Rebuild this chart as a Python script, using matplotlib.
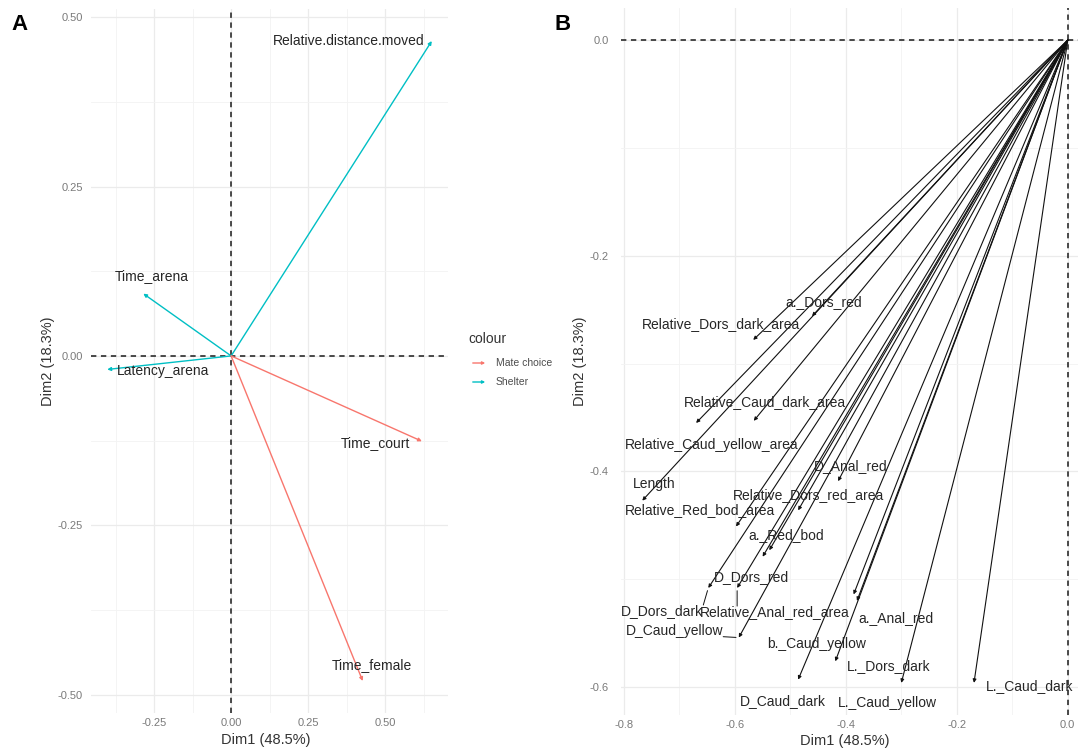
import matplotlib
matplotlib.use("Agg")
import matplotlib.pyplot as plt
from matplotlib.patches import FancyArrowPatch
from matplotlib.ticker import FormatStrFormatter
import numpy as np

plt.rcParams['font.family'] = ['Liberation Sans', 'DejaVu Sans']
plt.rcParams['axes.unicode_minus'] = False

# ---- Panel A: behavioural variables (PCA loadings) ----
behav_vars = ['Relative.distance.moved', 'Time_arena', 'Latency_arena',
              'Time_court', 'Time_female']
behav_dim1 = [0.651, -0.285, -0.402, 0.619, 0.427]
behav_dim2 = [0.465, 0.092, -0.020, -0.126, -0.480]
behav_group = ['Shelter', 'Shelter', 'Shelter', 'Mate choice', 'Mate choice']
group_names = ['Mate choice', 'Shelter']
group_colors = {'Mate choice': '#F8766D', 'Shelter': '#00BFC4'}

# repelled label placement (data units)
behav_label_xy = [(0.381, 0.465), (-0.258, 0.118), (-0.221, -0.022),
                  (0.468, -0.128), (0.458, -0.456)]

# ---- Panel B: colour-pattern variables (PCA loadings) ----
colour_vars = ['a._Dors_red', 'Relative_Dors_dark_area', 'Relative_Caud_dark_area',
               'Relative_Caud_yellow_area', 'D_Anal_red', 'Length',
               'Relative_Dors_red_area', 'Relative_Red_bod_area', 'a._Red_bod',
               'D_Dors_red', 'D_Dors_dark', 'Relative_Anal_red_area',
               'D_Caud_yellow', 'a._Anal_red', 'b._Caud_yellow', 'L._Dors_dark',
               'D_Caud_dark', 'L._Caud_yellow', 'L._Caud_dark']
colour_dim1 = [-0.461, -0.567, -0.566, -0.670, -0.414, -0.767, -0.486, -0.598,
               -0.538, -0.550, -0.648, -0.596, -0.593, -0.380, -0.386, -0.419,
               -0.486, -0.300, -0.169]
colour_dim2 = [-0.256, -0.278, -0.353, -0.355, -0.409, -0.427, -0.436, -0.451,
               -0.473, -0.479, -0.508, -0.508, -0.554, -0.520, -0.514, -0.576,
               -0.593, -0.596, -0.596]

colour_label_xy = [(-0.440, -0.243), (-0.625, -0.263), (-0.545, -0.336),
                   (-0.642, -0.375), (-0.392, -0.395), (-0.746, -0.412),
                   (-0.467, -0.422), (-0.663, -0.436), (-0.507, -0.459),
                   (-0.571, -0.498), (-0.731, -0.529), (-0.528, -0.530),
                   (-0.709, -0.548), (-0.310, -0.536), (-0.452, -0.560),
                   (-0.322, -0.580), (-0.514, -0.613), (-0.325, -0.615),
                   (-0.068, -0.599)]
# labels pushed far enough from their arrow to get a connector segment
colour_segment_vars = ['D_Dors_dark', 'Relative_Anal_red_area', 'D_Caud_yellow']

W, H = 1078, 754
fig = plt.figure(figsize=(W / 100, H / 100), dpi=100)
fig.patch.set_facecolor('white')


def px_axes(left, top, right, bottom):
    return fig.add_axes([left / W, 1 - bottom / H, (right - left) / W, (bottom - top) / H])


def expanded(vals, frac=0.05):
    lo, hi = min(min(vals), 0.0), max(max(vals), 0.0)
    pad = (hi - lo) * frac
    return lo - pad, hi + pad


def style_axes(ax, xmaj, xmin, ymaj, ymin, fmt):
    ax.set_facecolor('white')
    for s in ax.spines.values():
        s.set_visible(False)
    ax.set_xticks(xmaj)
    ax.set_xticks(xmin, minor=True)
    ax.set_yticks(ymaj)
    ax.set_yticks(ymin, minor=True)
    ax.xaxis.set_major_formatter(FormatStrFormatter(fmt))
    ax.yaxis.set_major_formatter(FormatStrFormatter(fmt))
    ax.grid(which='major', color='#EBEBEB', lw=0.9, zorder=0)
    ax.grid(which='minor', color='#F3F3F3', lw=0.6, zorder=0)
    ax.tick_params(which='both', length=0, labelsize=8, labelcolor='#7A7A7A')
    ax.tick_params(axis='x', pad=3.5)
    ax.tick_params(axis='y', pad=6)
    ax.set_axisbelow(True)
    ax.axhline(0, color='#1A1A1A', lw=1.1, ls=(0, (3.5, 3)), zorder=1)
    ax.axvline(0, color='#1A1A1A', lw=1.1, ls=(0, (3.5, 3)), zorder=1)
    ax.set_xlabel('Dim1 (48.5%)', fontsize=10.5, color='#333333')
    ax.set_ylabel('Dim2 (18.3%)', fontsize=10.5, color='#333333')
    ax.xaxis.label.set_va('center')
    ax.yaxis.label.set_va('center')


def loading_arrow(ax, x, y, color, lw):
    ax.annotate('', xy=(x, y), xytext=(0, 0),
                arrowprops=dict(arrowstyle='-|>', color=color, lw=lw,
                                mutation_scale=5, shrinkA=0, shrinkB=0),
                zorder=3)


# ---------------- Panel A ----------------
axA = px_axes(91, 9, 448, 713)
axA.set_xlim(*expanded(behav_dim1))
axA.set_ylim(*expanded(behav_dim2))
style_axes(axA, [-0.25, 0.0, 0.25, 0.5], [-0.375, -0.125, 0.125, 0.375, 0.625],
           [-0.5, -0.25, 0.0, 0.25, 0.5], [-0.375, -0.125, 0.125, 0.375], '%.2f')
axA.xaxis.set_label_coords(0.49, -0.039)
axA.yaxis.set_label_coords(-0.12, 0.5)

for name, x, y, g, (lx, ly) in zip(behav_vars, behav_dim1, behav_dim2,
                                     behav_group, behav_label_xy):
    loading_arrow(axA, x, y, group_colors[g], 1.0)
    axA.text(lx, ly, name, fontsize=10, color='#262626', ha='center', va='center',
             zorder=4)

# legend: title plus arrow keys
fig.text(468 / W, 1 - 339 / H, 'colour', fontsize=10, color='#333333',
         ha='left', va='center')
for i, g in enumerate(group_names):
    yk = 1 - (363 + 19 * i) / H
    fig.patches.append(FancyArrowPatch((470 / W, yk), (488 / W, yk),
                                       transform=fig.transFigure,
                                       arrowstyle='-|>', mutation_scale=4,
                                       color=group_colors[g], lw=1.0))
    fig.text(496 / W, yk, g, fontsize=7.5, color='#4D4D4D', ha='left', va='center')

# ---------------- Panel B ----------------
axB = px_axes(621, 8, 1089, 715)
axB.set_xlim(*expanded(colour_dim1))
axB.set_ylim(*expanded(colour_dim2))
style_axes(axB, [-0.8, -0.6, -0.4, -0.2, 0.0], [-0.7, -0.5, -0.3, -0.1],
           [-0.6, -0.4, -0.2, 0.0], [-0.5, -0.3, -0.1], '%.1f')
axB.tick_params(axis='y', pad=9)
axB.xaxis.set_label_coords((845 - 621) / 468, -0.037)
axB.yaxis.set_label_coords(-0.088, 0.5)

label_artists = {}
for name, x, y, (lx, ly) in zip(colour_vars, colour_dim1, colour_dim2, colour_label_xy):
    loading_arrow(axB, x, y, '#111111', 0.8)
    label_artists[name] = axB.text(lx, ly, name, fontsize=10, color='#262626',
                                   ha='center', va='center', zorder=4)

# connector segments: from the nearest point of the label box to the arrow tip
fig.canvas.draw()
renderer = fig.canvas.get_renderer()
to_data = axB.transData.inverted()
for name, x, y in zip(colour_vars, colour_dim1, colour_dim2):
    if name not in colour_segment_vars:
        continue
    bb = label_artists[name].get_window_extent(renderer).expanded(1.0, 0.8)
    px, py = axB.transData.transform((x, y))
    near = (np.clip(px, bb.x0, bb.x1), np.clip(py, bb.y0, bb.y1))
    start = to_data.transform(near)
    axB.annotate('', xy=(x, y), xytext=tuple(start),
                 arrowprops=dict(arrowstyle='-', color='#111111', lw=0.7,
                                 shrinkA=0, shrinkB=2), zorder=4)

# panel tags
fig.text(19 / W, 1 - 25 / H, 'A', fontsize=16, fontweight='bold', ha='center', va='center')
fig.text(563 / W, 1 - 25 / H, 'B', fontsize=16, fontweight='bold', ha='center', va='center')

fig.savefig('out.png', dpi=100, facecolor='white')
